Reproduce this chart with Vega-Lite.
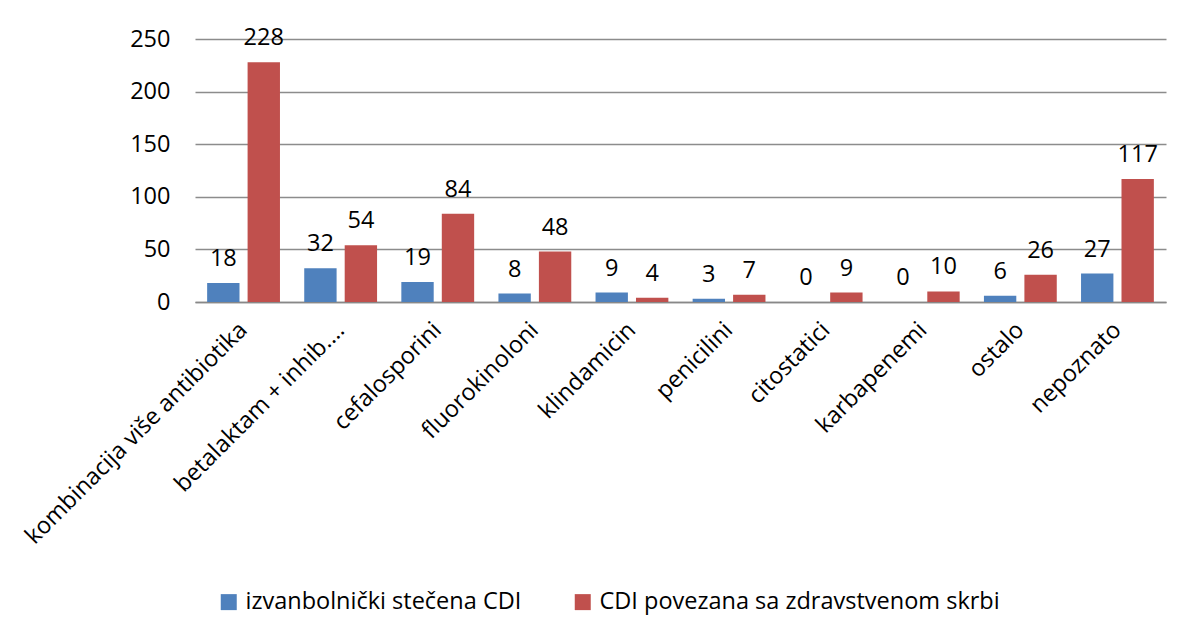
{
  "$schema": "https://vega.github.io/schema/vega-lite/v6.json",
  "width": 971,
  "height": 263,
  "autosize": {"type": "none"},
  "padding": {"left": 195, "top": 39, "right": 21, "bottom": 333},
  "background": "white",
  "config": {
    "font": "Open Sans",
    "view": {"stroke": null}
  },
  "data": {
    "values": [
      {"kategorija": "kombinacija više antibiotika", "serija": "izvanbolnički stečena CDI", "broj": 18},
      {"kategorija": "kombinacija više antibiotika", "serija": "CDI povezana sa zdravstvenom skrbi", "broj": 228},
      {"kategorija": "betalaktam + inhib.…", "serija": "izvanbolnički stečena CDI", "broj": 32},
      {"kategorija": "betalaktam + inhib.…", "serija": "CDI povezana sa zdravstvenom skrbi", "broj": 54},
      {"kategorija": "cefalosporini", "serija": "izvanbolnički stečena CDI", "broj": 19},
      {"kategorija": "cefalosporini", "serija": "CDI povezana sa zdravstvenom skrbi", "broj": 84},
      {"kategorija": "fluorokinoloni", "serija": "izvanbolnički stečena CDI", "broj": 8},
      {"kategorija": "fluorokinoloni", "serija": "CDI povezana sa zdravstvenom skrbi", "broj": 48},
      {"kategorija": "klindamicin", "serija": "izvanbolnički stečena CDI", "broj": 9},
      {"kategorija": "klindamicin", "serija": "CDI povezana sa zdravstvenom skrbi", "broj": 4},
      {"kategorija": "penicilini", "serija": "izvanbolnički stečena CDI", "broj": 3},
      {"kategorija": "penicilini", "serija": "CDI povezana sa zdravstvenom skrbi", "broj": 7},
      {"kategorija": "citostatici", "serija": "izvanbolnički stečena CDI", "broj": 0},
      {"kategorija": "citostatici", "serija": "CDI povezana sa zdravstvenom skrbi", "broj": 9},
      {"kategorija": "karbapenemi", "serija": "izvanbolnički stečena CDI", "broj": 0},
      {"kategorija": "karbapenemi", "serija": "CDI povezana sa zdravstvenom skrbi", "broj": 10},
      {"kategorija": "ostalo", "serija": "izvanbolnički stečena CDI", "broj": 6},
      {"kategorija": "ostalo", "serija": "CDI povezana sa zdravstvenom skrbi", "broj": 26},
      {"kategorija": "nepoznato", "serija": "izvanbolnički stečena CDI", "broj": 27},
      {"kategorija": "nepoznato", "serija": "CDI povezana sa zdravstvenom skrbi", "broj": 117}
    ]
  },
  "encoding": {
    "x": {
      "field": "kategorija",
      "type": "nominal",
      "sort": null,
      "scale": {"paddingInner": 0.25, "paddingOuter": 0.125},
      "axis": {
        "title": null,
        "labelAngle": -45,
        "labelAlign": "right",
        "labelBaseline": "middle",
        "labelPadding": 24,
        "labelFontSize": 23.5,
        "labelColor": "#000000",
        "labelLimit": 400,
        "ticks": false,
        "domainColor": "#888888",
        "domainWidth": 1.5,
        "grid": false
      }
    },
    "xOffset": {
      "field": "serija",
      "type": "nominal",
      "sort": ["izvanbolnički stečena CDI", "CDI povezana sa zdravstvenom skrbi"],
      "scale": {"paddingInner": 0.2}
    },
    "y": {
      "field": "broj",
      "type": "quantitative",
      "scale": {"domain": [0, 250], "nice": false},
      "axis": {
        "title": null,
        "values": [0, 50, 100, 150, 200, 250],
        "labelFontSize": 23.5,
        "labelColor": "#000000",
        "labelPadding": 25,
        "ticks": false,
        "domain": false,
        "gridColor": "#8c8c8c",
        "gridWidth": 1.3
      }
    }
  },
  "layer": [
    {
      "mark": {"type": "bar"},
      "encoding": {
        "color": {
          "field": "serija",
          "type": "nominal",
          "sort": ["izvanbolnički stečena CDI", "CDI povezana sa zdravstvenom skrbi"],
          "scale": {
            "domain": ["izvanbolnički stečena CDI", "CDI povezana sa zdravstvenom skrbi"],
            "range": ["#4F81BD", "#C0504D"]
          },
          "legend": {
            "title": null,
            "orient": "none",
            "direction": "horizontal",
            "legendX": 22,
            "legendY": 551,
            "symbolType": "square",
            "symbolSize": 256,
            "symbolStrokeWidth": 0,
            "symbolOpacity": 1,
            "labelFontSize": 23.5,
            "labelColor": "#000000",
            "labelOffset": 5,
            "columnPadding": 49,
            "labelLimit": 600
          }
        }
      }
    },
    {
      "mark": {"type": "text", "baseline": "alphabetic", "dy": -17, "fontSize": 23.5, "color": "#000000"},
      "encoding": {
        "text": {"field": "broj", "type": "quantitative"}
      }
    }
  ]
}
